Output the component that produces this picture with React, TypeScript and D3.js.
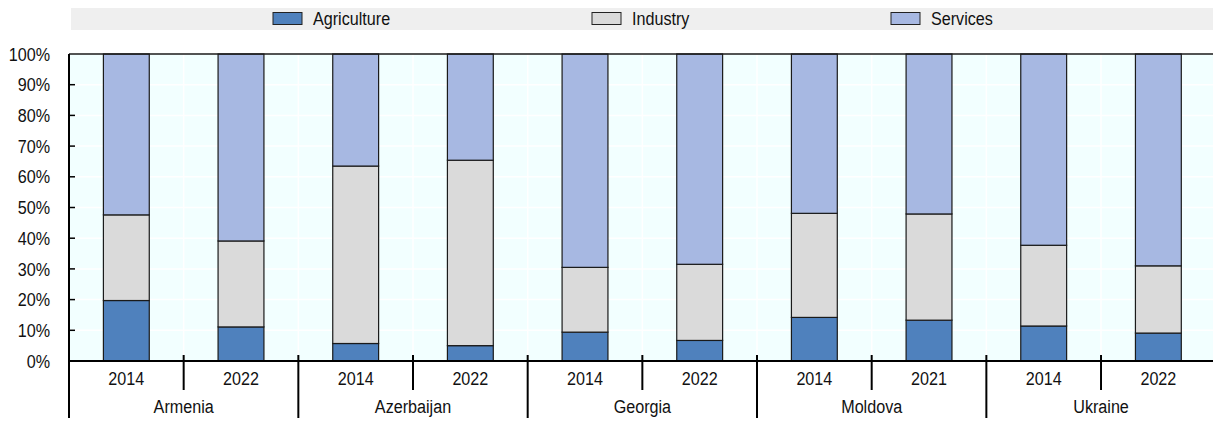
import React from "react";
import * as d3 from "d3";

// DATA
const countries = ["Armenia", "Azerbaijan", "Georgia", "Moldova", "Ukraine"];
const years = ["2014", "2022", "2014", "2022", "2014", "2022", "2014", "2021", "2014", "2022"];
const agriculture = [19.7, 11.1, 5.7, 5.0, 9.4, 6.7, 14.2, 13.3, 11.4, 9.1];
const industry = [27.9, 28.0, 57.8, 60.4, 21.1, 24.8, 33.9, 34.6, 26.3, 21.9];
const services = [52.4, 60.9, 36.5, 34.6, 69.5, 68.5, 51.9, 52.1, 62.3, 69.0];
const sectors = ["Agriculture", "Industry", "Services"];
const yTicks = [0, 10, 20, 30, 40, 50, 60, 70, 80, 90, 100];

const colors: Record<string, string> = {
  Agriculture: "#4f81bd",
  Industry: "#dadada",
  Services: "#a7b8e2",
};

const FONT = "'Liberation Sans', Arial, sans-serif";

// narrow text (reference uses a condensed face)
function NText(props: { x: number; y: number; anchor?: string; dy?: string; children: React.ReactNode }) {
  return (
    <text
      transform={`translate(${props.x},${props.y}) scale(0.85,1)`}
      dy={props.dy}
      textAnchor={props.anchor || "start"}
      fontSize={19}
      fill="#111"
    >
      {props.children}
    </text>
  );
}

export default function App() {
  const W = 1213;
  const H = 421;
  const left = 69;
  const top = 54;
  const bottom = 361;

  const rows = years.map((y, i) => ({
    key: `${countries[Math.floor(i / 2)]}-${y}-${i}`,
    year: y,
    Agriculture: agriculture[i],
    Industry: industry[i],
    Services: services[i],
  }));

  // SCALES
  const xScale = d3
    .scaleBand<string>()
    .domain(rows.map((r) => r.key))
    .range([left, left + 114.67 * rows.length])
    .padding(0);
  const bw = xScale.bandwidth();
  const barW = bw * 0.4;
  const yScale = d3.scaleLinear().domain([0, 100]).range([bottom, top]);

  const stacked = d3.stack<any>().keys(sectors)(rows);

  return (
    <svg
      width={W}
      height={H}
      style={{ position: "absolute", left: 0, top: 0, display: "block" }}
      fontFamily={FONT}
    >
      {/* LEGEND */}
      <rect x={71} y={8} width={W - 71} height={22} fill="#efefef" />
      {sectors.map((s, i) => {
        const lx = [273, 592, 891][i];
        return (
          <g key={s}>
            <rect x={lx} y={12.5} width={29} height={12} fill={colors[s]} stroke="#222" strokeWidth={1} />
            <NText x={lx + 40} y={25}>
              {s}
            </NText>
          </g>
        );
      })}

      {/* PLOT BACKGROUND */}
      <rect x={left} y={top} width={W - left} height={bottom - top} fill="#f2ffff" />

      {/* GRID */}
      {yTicks.map((t) => (
        <line key={"gy" + t} x1={left} x2={W} y1={yScale(t)} y2={yScale(t)} stroke="#fff" strokeWidth={1.5} />
      ))}
      {rows.map((r) => (
        <line
          key={"gx" + r.key}
          x1={(xScale(r.key) as number) + bw}
          x2={(xScale(r.key) as number) + bw}
          y1={top}
          y2={bottom}
          stroke="#fff"
          strokeWidth={1.5}
        />
      ))}

      {/* BARS */}
      {stacked.map((layer) => (
        <g key={layer.key} fill={colors[layer.key]}>
          {layer.map((d, i) => {
            const x = (xScale(rows[i].key) as number) + (bw - barW) / 2;
            return (
              <rect
                key={i}
                x={x}
                y={yScale(d[1])}
                width={barW}
                height={yScale(d[0]) - yScale(d[1])}
                stroke="#1a1a1a"
                strokeWidth={1.2}
              />
            );
          })}
        </g>
      ))}

      {/* TOP LINE */}
      <line x1={left} x2={W} y1={top} y2={top} stroke="#1a1a1a" strokeWidth={1.5} />

      {/* Y AXIS */}
      <line x1={left} x2={left} y1={top} y2={418} stroke="#000" strokeWidth={2} />
      {yTicks.map((t) => (
        <g key={"yt" + t}>
          {t > 0 && t < 100 && (
            <line x1={left} x2={left + 6} y1={yScale(t)} y2={yScale(t)} stroke="#000" strokeWidth={1.5} />
          )}
          <NText x={50} y={yScale(t)} dy="0.35em" anchor="end">
            {t}%
          </NText>
        </g>
      ))}

      {/* X AXIS */}
      <line x1={left} x2={W} y1={bottom} y2={bottom} stroke="#000" strokeWidth={2} />
      {rows.map((r, i) => {
        const bx = (xScale(r.key) as number) + bw;
        return (
          <g key={"xt" + r.key}>
            <NText x={(xScale(r.key) as number) + bw / 2} y={385} anchor="middle">
              {r.year}
            </NText>
            {i < rows.length - 1 && (
              <line x1={bx} x2={bx} y1={355} y2={i % 2 === 1 ? 418 : 390} stroke="#000" strokeWidth={2} />
            )}
          </g>
        );
      })}
      {countries.map((c, i) => (
        <NText key={c} x={(xScale(rows[i * 2].key) as number) + bw} y={413} anchor="middle">
          {c}
        </NText>
      ))}
    </svg>
  );
}
